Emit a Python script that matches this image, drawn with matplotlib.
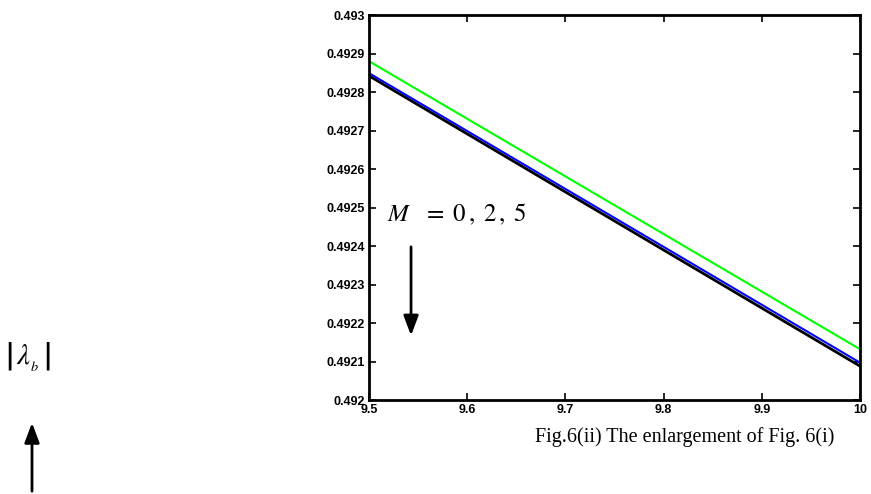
import numpy as np
import matplotlib
matplotlib.use("Agg")
import matplotlib.pyplot as plt

plt.rcParams["mathtext.fontset"] = "stix"

x = [9.5, 10.0]
lam_green = [0.49288, 0.492132]   # M = 0
lam_blue = [0.492849, 0.492097]   # M = 2
lam_black = [0.492842, 0.492088]  # M = 5
xticks = [9.5, 9.6, 9.7, 9.8, 9.9, 10]
xticklabels = ["9.5", "9.6", "9.7", "9.8", "9.9", "10"]
yticks = [0.492, 0.4921, 0.4922, 0.4923, 0.4924, 0.4925, 0.4926, 0.4927, 0.4928, 0.4929, 0.493]
yticklabels = ["0.492", "0.4921", "0.4922", "0.4923", "0.4924", "0.4925",
               "0.4926", "0.4927", "0.4928", "0.4929", "0.493"]

W, H = 871, 494
fig = plt.figure(figsize=(W / 100, H / 100), dpi=100)
ax = fig.add_axes([369 / W, 1 - 400 / H, (860 - 369) / W, (400 - 15) / H])

ax.plot(x, lam_green, color="#00ff00", lw=1.5)
ax.plot(x, lam_black, color="black", lw=2.0)
ax.plot(x, lam_blue, color="blue", lw=1.5)

ax.set_xlim(9.5, 10)
ax.set_ylim(0.492, 0.493)
ax.set_xticks(xticks)
ax.set_xticklabels(xticklabels)
ax.set_yticks(yticks)
ax.set_yticklabels(yticklabels)
ax.tick_params(direction="in", top=True, right=True, length=5, width=1.2, labelsize=9, pad=3)
for lab in ax.get_xticklabels() + ax.get_yticklabels():
    lab.set_fontweight("bold")
    lab.set_family("Liberation Sans")
for s in ax.spines.values():
    s.set_linewidth(2)

# annotation inside the axes
ax.text(9.518, 0.49245, r"$M\;\;\;=\;0\,,\;2\,,\;5$", fontsize=18,
        va="bottom", ha="left")
ax.annotate("", xy=(9.5428, 0.49216), xytext=(9.5428, 0.492405),
            arrowprops=dict(arrowstyle="-|>,head_length=1.2,head_width=0.45",
                            color="black", lw=2))

# caption and leftover y label of the full figure
fig.text(685 / W, 1 - 437 / H, "Fig.6(ii) The enlargement of Fig. 6(i)",
         family="Liberation Serif", fontsize=14.5, ha="center", va="center")
fig.text(28 / W, 1 - 356 / H, r"$\left|\,\lambda_{_b}\,\right|$", fontsize=21,
         ha="center", va="center")
fig.patches.append(matplotlib.patches.FancyArrowPatch(
    (32 / W, 0.0), (32 / W, 1 - 420 / H), transform=fig.transFigure,
    arrowstyle="-|>,head_length=1.2,head_width=0.45", color="black", lw=2,
    mutation_scale=10))

fig.savefig("out.png", dpi=100)
